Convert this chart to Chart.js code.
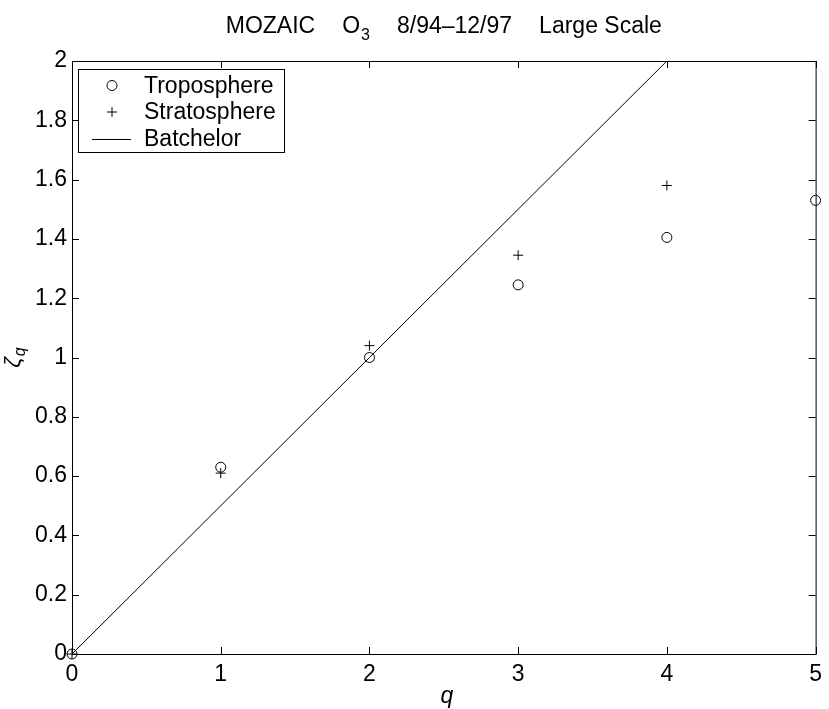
<!DOCTYPE html>
<html>
<head>
<meta charset="utf-8">
<script src="https://cdn.jsdelivr.net/npm/chart.js@4.4.0/dist/chart.umd.min.js"></script>
<style>
  html, body { margin: 0; padding: 0; background: #fff; }
  #wrap { width: 829px; height: 709px; }
</style>
</head>
<body>
<div id="wrap"><canvas id="chart" width="829" height="709"></canvas></div>
<script>
// values
const tropoQ = [0, 1, 2, 3, 4, 5];
const tropoZeta = [0, 0.63, 1.0, 1.245, 1.405, 1.53];
const stratoQ = [0, 1, 2, 3, 4];
const stratoZeta = [0, 0.61, 1.04, 1.345, 1.58];
const batchelorQ = [0, 4];
const batchelorZeta = [0, 2];

const xTicks = [0, 1, 2, 3, 4, 5];
const yTicks = [0, 0.2, 0.4, 0.6, 0.8, 1, 1.2, 1.4, 1.6, 1.8, 2];

const FONT = '"Liberation Sans", Arial, Helvetica, sans-serif';
const FS = 23;

Chart.defaults.font.family = FONT;
Chart.defaults.color = '#000';

const toXY = (xs, ys) => xs.map((x, i) => ({ x: x, y: ys[i] }));

// box + inward ticks on all four sides
const framePlugin = {
  id: 'frame',
  beforeDatasetsDraw(chart) {
    const { ctx, chartArea: a, scales } = chart;
    const tl = 7;
    ctx.save();
    ctx.strokeStyle = '#000';
    ctx.lineWidth = 1;
    ctx.strokeRect(a.left + 0.5, a.top + 0.5, a.right - a.left, a.bottom - a.top);
    ctx.beginPath();
    scales.x.ticks.forEach(t => {
      const px = Math.round(scales.x.getPixelForValue(t.value)) + 0.5;
      ctx.moveTo(px, a.bottom); ctx.lineTo(px, a.bottom - tl);
      ctx.moveTo(px, a.top); ctx.lineTo(px, a.top + tl);
    });
    scales.y.ticks.forEach(t => {
      const py = Math.round(scales.y.getPixelForValue(t.value)) + 0.5;
      ctx.moveTo(a.left, py); ctx.lineTo(a.left + tl, py);
      ctx.moveTo(a.right, py); ctx.lineTo(a.right - tl, py);
    });
    ctx.stroke();
    ctx.restore();
  }
};

// title, axis titles with subscripts, legend box
const textPlugin = {
  id: 'texts',
  afterDraw(chart) {
    const { ctx, chartArea: a } = chart;
    ctx.save();
    ctx.fillStyle = '#000';
    ctx.textBaseline = 'alphabetic';

    // title
    const big = FS + 'px ' + FONT;
    const small = '16px ' + FONT;
    const gap = 27;
    const parts = [
      { t: 'MOZAIC', f: big, dy: 0, g: gap },
      { t: 'O', f: big, dy: 0, g: 1 },
      { t: '3', f: small, dy: 7, g: gap },
      { t: '8/94\u201312/97', f: big, dy: 0, g: gap },
      { t: 'Large Scale', f: big, dy: 0, g: 0 }
    ];
    let total = 0;
    parts.forEach(p => { ctx.font = p.f; p.w = ctx.measureText(p.t).width; total += p.w + p.g; });
    let x = (a.left + a.right) / 2 - total / 2;
    const baseY = 33;
    parts.forEach(p => {
      ctx.font = p.f;
      ctx.textAlign = 'left';
      ctx.fillText(p.t, x, baseY + p.dy);
      x += p.w + p.g;
    });

    // x axis title
    ctx.font = 'italic ' + FS + 'px ' + FONT;
    ctx.textAlign = 'center';
    ctx.fillText('q', (a.left + a.right) / 2 + 3, 703);

    // y axis title, rotated
    ctx.save();
    ctx.translate(20, (a.top + a.bottom) / 2);
    ctx.rotate(-Math.PI / 2);
    ctx.font = 'italic ' + FS + 'px ' + FONT;
    ctx.textAlign = 'left';
    const zw = ctx.measureText('\u03B6').width;
    ctx.fillText('\u03B6', -zw / 2 - 5, 0);
    ctx.font = 'italic 16px ' + FONT;
    ctx.fillText('q', zw / 2 - 4, 5);
    ctx.restore();

    // legend
    const lx = 78, ly = 69, lw = 206, lh = 83;
    ctx.fillStyle = '#fff';
    ctx.fillRect(lx, ly, lw, lh);
    ctx.strokeStyle = '#000';
    ctx.lineWidth = 1;
    ctx.strokeRect(lx + 0.5, ly + 0.5, lw, lh);
    const rows = [85.5, 112, 138.5];
    ctx.fillStyle = '#000';
    ctx.font = big;
    ctx.textAlign = 'left';
    ctx.textBaseline = 'middle';
    chart.data.datasets.forEach((ds, i) => {
      const cy = rows[i];
      const mx = 112;
      ctx.beginPath();
      if (ds.legendMark === 'circle') {
        ctx.arc(mx, cy, 5, 0, Math.PI * 2);
      } else if (ds.legendMark === 'cross') {
        ctx.moveTo(mx - 5, cy); ctx.lineTo(mx + 5, cy);
        ctx.moveTo(mx, cy - 5); ctx.lineTo(mx, cy + 5);
      } else {
        ctx.moveTo(92, Math.round(cy) + 0.5); ctx.lineTo(131, Math.round(cy) + 0.5);
      }
      ctx.stroke();
      ctx.fillText(ds.label, 144, cy + 1);
    });
    ctx.restore();
  }
};

new Chart(document.getElementById('chart'), {
  type: 'scatter',
  data: {
    datasets: [
      {
        label: 'Troposphere',
        legendMark: 'circle',
        data: toXY(tropoQ, tropoZeta),
        pointStyle: 'circle',
        pointRadius: 5,
        pointBorderWidth: 1,
        borderColor: '#000',
        backgroundColor: 'rgba(0,0,0,0)',
        clip: false
      },
      {
        label: 'Stratosphere',
        legendMark: 'cross',
        data: toXY(stratoQ, stratoZeta),
        pointStyle: 'cross',
        pointRadius: 5,
        pointBorderWidth: 1,
        borderColor: '#000',
        backgroundColor: '#000',
        clip: false
      },
      {
        label: 'Batchelor',
        legendMark: 'line',
        type: 'line',
        data: toXY(batchelorQ, batchelorZeta),
        borderColor: '#000',
        borderWidth: 1,
        pointRadius: 0,
        fill: false
      }
    ]
  },
  options: {
    responsive: false,
    animation: false,
    devicePixelRatio: 1,
    layout: { padding: { top: 61, right: 7, left: 0, bottom: 0 } },
    plugins: {
      legend: { display: false },
      title: { display: false },
      tooltip: { enabled: false }
    },
    scales: {
      x: {
        type: 'linear',
        min: 0,
        max: 5,
        grid: { display: false, drawTicks: false },
        border: { display: false },
        afterBuildTicks: s => { s.ticks = xTicks.map(v => ({ value: v })); },
        afterFit: s => { s.height = 55; },
        ticks: {
          padding: 7,
          color: '#000',
          font: { size: FS },
          maxRotation: 0,
          callback: v => String(v)
        }
      },
      y: {
        type: 'linear',
        min: 0,
        max: 2,
        grid: { display: false, drawTicks: false },
        border: { display: false },
        afterBuildTicks: s => { s.ticks = yTicks.map(v => ({ value: v })); },
        afterFit: s => { s.width = 72; },
        ticks: {
          padding: 5,
          color: '#000',
          font: { size: FS },
          callback: v => String(Number(v.toFixed(1)))
        }
      }
    }
  },
  plugins: [framePlugin, textPlugin]
});
</script>
</body>
</html>
